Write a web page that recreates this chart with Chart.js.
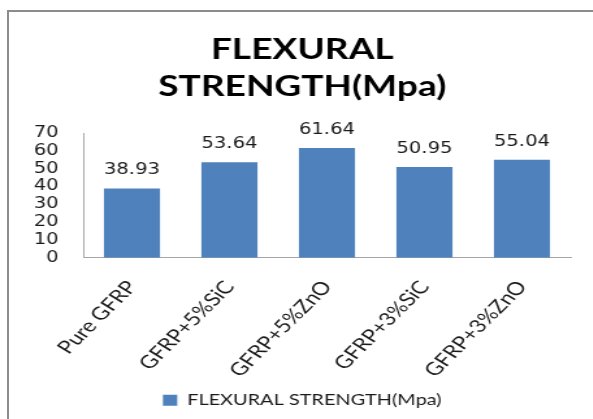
<!DOCTYPE html>
<html>
<head>
<meta charset="utf-8">
<script src="https://cdn.jsdelivr.net/npm/chart.js@4"></script>
<style>
  html, body { margin: 0; padding: 0; background: #fff; width: 593px; height: 419px; overflow: hidden; }
  #frame { position: absolute; left: 7px; top: 10px; width: 700px; height: 500px; border: 2px solid #8c8c8c; }
  /* the chart is laid out on a narrower canvas and widened horizontally */
  #wrap { position: absolute; left: 0; top: 0; width: 456px; height: 419px; transform: scaleX(1.3); transform-origin: 0 0; }
</style>
</head>
<body>
<div id="frame"></div>
<div id="wrap"><canvas id="c" width="456" height="419"></canvas></div>
<script>
const categories = ['Pure GFRP', 'GFRP+5%SiC', 'GFRP+5%ZnO', 'GFRP+3%SiC', 'GFRP+3%ZnO'];
const strengthValues = [38.93, 53.64, 61.64, 50.95, 55.04];
const yTicks = [0, 10, 20, 30, 40, 50, 60, 70];
const seriesName = 'FLEXURAL STRENGTH(Mpa)';
const titleLines = ['FLEXURAL', 'STRENGTH(Mpa)'];

// value printed above every bar
const valueLabels = {
  id: 'valueLabels',
  afterDatasetsDraw(chart) {
    const ctx = chart.ctx;
    const meta = chart.getDatasetMeta(0);
    ctx.save();
    ctx.font = '15px "DejaVu Sans"';
    ctx.fillStyle = '#1a1a1a';
    ctx.textAlign = 'center';
    ctx.textBaseline = 'middle';
    meta.data.forEach((bar, i) => {
      ctx.fillText(strengthValues[i].toFixed(2), bar.x, bar.y - 18);
    });
    ctx.restore();
  }
};

new Chart(document.getElementById('c'), {
  type: 'bar',
  data: {
    labels: categories,
    datasets: [{
      label: seriesName,
      data: strengthValues,
      backgroundColor: '#4F81BD',
      borderWidth: 0,
      categoryPercentage: 1.0,
      barPercentage: 0.575
    }]
  },
  options: {
    responsive: false,
    animation: false,
    devicePixelRatio: 1,
    layout: { padding: { left: 26, right: 17, top: 0, bottom: 1 } },
    plugins: {
      title: {
        display: true,
        text: titleLines,
        color: '#000',
        font: { family: 'Lato', weight: 'bold', size: 28.5, lineHeight: 1.3 },
        padding: { top: 31, bottom: 28 }
      },
      legend: {
        display: true,
        position: 'bottom',
        labels: {
          color: '#1a1a1a',
          font: { family: 'Lato', size: 15.3 },
          boxWidth: 11,
          boxHeight: 11,
          padding: 10
        }
      },
      tooltip: { enabled: false }
    },
    scales: {
      x: {
        grid: { display: false, drawTicks: false },
        border: { display: true, color: '#a6a6a6', width: 1 },
        ticks: {
          color: '#1a1a1a',
          font: { family: 'Lato', size: 18 },
          minRotation: 52,
          maxRotation: 52,
          padding: 19,
          autoSkip: false
        },
        afterFit(scale) {
          scale.paddingLeft = 0;
          scale.paddingRight = 0;
          scale.height = 125;
        }
      },
      y: {
        min: 0,
        max: 70,
        grid: { display: false, drawTicks: false },
        border: { display: true, color: '#a6a6a6', width: 1 },
        afterBuildTicks(scale) { scale.ticks = yTicks.map(v => ({ value: v })); },
        ticks: {
          color: '#1a1a1a',
          font: { family: 'DejaVu Sans', size: 15 },
          padding: 19,
          autoSkip: false
        },
        afterFit(scale) {
          scale.width = 38;
        }
      }
    }
  },
  plugins: [valueLabels]
});
</script>
</body>
</html>
